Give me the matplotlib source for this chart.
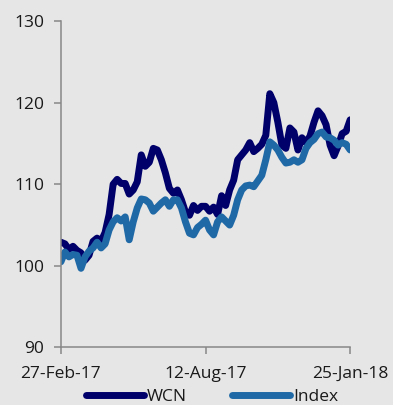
import matplotlib.pyplot as plt
import pandas as pd

# WCN share price vs. index, both rebased to 100
start_date = "2017-02-27"
end_date = "2018-01-25"
tick_labels = ["27-Feb-17", "12-Aug-17", "25-Jan-18"]

wcn = [
    102.9, 102.7, 102.0, 102.4, 101.9, 101.6, 100.7, 101.3, 103.0, 103.4,
    103.0, 104.1, 106.3, 110.0, 110.6, 110.1, 110.1, 108.8, 109.3, 110.3,
    113.6, 112.2, 112.7, 114.4, 114.2, 113.0, 111.4, 109.5, 108.9, 109.3,
    108.1, 106.6, 106.2, 107.4, 106.8, 107.3, 107.3, 106.7, 107.2, 106.3,
    108.6, 107.4, 109.3, 110.5, 113.0, 113.6, 114.2, 115.1, 114.0, 114.4,
    114.9, 116.0, 121.1, 120.0, 117.6, 114.8, 114.4, 116.9, 116.4, 114.2,
    115.7, 115.1, 115.9, 117.6, 119.0, 118.4, 117.3, 114.8, 113.5, 114.7,
    116.2, 116.5, 117.9,
]
index = [
    100.5, 101.7, 101.1, 101.4, 101.3, 99.7, 101.1, 101.8, 102.2, 102.9,
    102.2, 102.7, 104.4, 105.4, 105.9, 105.5, 106.0, 103.2, 105.4, 107.1,
    108.2, 108.1, 107.7, 106.7, 107.2, 107.7, 108.1, 107.3, 108.1, 108.1,
    107.1, 105.4, 104.0, 103.8, 104.7, 105.1, 105.6, 104.4, 103.8, 105.4,
    106.0, 105.5, 105.0, 106.2, 108.1, 109.3, 109.8, 109.9, 109.7, 110.4,
    111.1, 113.0, 115.2, 114.8, 114.2, 113.3, 112.6, 112.7, 113.0, 112.7,
    113.0, 114.4, 115.1, 115.5, 116.2, 116.4, 115.8, 115.7, 115.4, 114.8,
    115.1, 114.9, 114.2,
]

dates = pd.date_range(start_date, end_date, periods=len(wcn))
tick_dates = pd.to_datetime([start_date, "2017-08-12", end_date])

plt.rcParams["font.family"] = ["Open Sans", "DejaVu Sans"]
bg = "#e6e6e6"
text_color = "#1a1a1a"

fig = plt.figure(figsize=(3.93, 4.05), dpi=100, facecolor=bg)
ax = fig.add_axes([0.155, 0.142, 0.736, 0.806], facecolor=bg)

ax.plot(dates, wcn, color="#00006b", linewidth=5, solid_capstyle="round",
        solid_joinstyle="round", label="WCN")
ax.plot(dates, index, color="#1f69a7", linewidth=5, solid_capstyle="round",
        solid_joinstyle="round", label="Index")

ax.set_ylim(90, 130)
ax.set_yticks([90, 100, 110, 120, 130])
ax.set_xlim(tick_dates[0], tick_dates[-1])
ax.set_xticks(tick_dates)
ax.set_xticklabels(tick_labels)

for side in ["top", "right"]:
    ax.spines[side].set_visible(False)
for side in ["left", "bottom"]:
    ax.spines[side].set_color("#888888")
    ax.spines[side].set_linewidth(1.1)

ax.tick_params(axis="both", colors="#888888", labelcolor=text_color,
               labelsize=12.5, length=5, width=1.1)
ax.tick_params(axis="y", pad=7)
ax.tick_params(axis="x", pad=8)

fig.legend(loc="center", bbox_to_anchor=(0.54, 1 - 397 / 405), ncol=2,
           frameon=False, fontsize=12.5, handlelength=3.3,
           handletextpad=0.2, columnspacing=2.6, labelcolor=text_color)

fig.savefig("out.png", dpi=100, facecolor=bg)
